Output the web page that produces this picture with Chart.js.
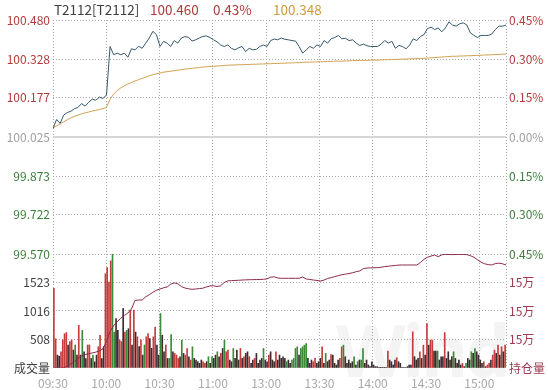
<!DOCTYPE html>
<html>
<head>
<meta charset="utf-8">
<script src="https://cdn.jsdelivr.net/npm/chart.js@4.4.0/dist/chart.umd.min.js"></script>
<style>
  body { margin: 0; background: #fff; }
  #wrap { position: relative; width: 548px; height: 390px; overflow: hidden; font-family: "Noto Sans CJK SC", "Noto Sans", sans-serif; }
  #wrap canvas { position: absolute; left: 0; top: 0; }
  .head { position: absolute; top: 0px; font-size: 13.5px; line-height: 18px; white-space: nowrap; }
  .mark { position: absolute; left: 336px; top: 300px; font: bold 72px "Noto Sans", sans-serif; color: #f4f4f4; letter-spacing: -3px; }
</style>
</head>
<body>
<div id="wrap">
  <div class="mark">Wind</div>
  <canvas id="chart" width="548" height="390"></canvas>
  <span class="head" style="left:54px;color:#404040">T2112[T2112]</span>
  <span class="head" style="left:150px;color:#b03a3a">100.460</span>
  <span class="head" style="left:213px;color:#b03a3a">0.43%</span>
  <span class="head" style="left:273px;color:#d09a3c">100.348</span>
</div>
<script>
"use strict"

window.addEventListener("DOMContentLoaded", () => {

  // Оси и подписи
  const preClose = 100.025
  const timeTicks = [0, 30, 60, 90, 120, 150, 180, 210, 240, 255]
  const timeLabels = ["09:30", "10:00", "10:30", "11:00", "13:00", "13:30", "14:00", "14:30", "15:00", ""]
  const priceTicks = [100.480, 100.328, 100.177, 100.025, 99.873, 99.722, 99.570]
  const pctLabels = ["0.45%", "0.30%", "0.15%", "0.00%", "0.15%", "0.30%", "0.45%"]
  const volTicks = [0, 508, 1016, 1523, 2031]
  const oiTicks = [150400, 151100, 151800, 152500, 153200]

  // Цена, каждые 2 минуты
  const price = [
    100.058, 100.093, 100.078, 100.110, 100.120, 100.125, 100.135, 100.140, 100.155, 100.145,
    100.160, 100.172, 100.168, 100.180, 100.175, 100.188, 100.377, 100.345, 100.351, 100.345,
    100.351, 100.335, 100.368, 100.364, 100.378, 100.370, 100.390, 100.410, 100.436, 100.423,
    100.377, 100.397, 100.390, 100.377, 100.400, 100.390, 100.410, 100.415, 100.413, 100.398,
    100.403, 100.410, 100.416, 100.418, 100.412, 100.403, 100.395, 100.383, 100.377, 100.383,
    100.370, 100.364, 100.372, 100.377, 100.357, 100.370, 100.364, 100.366, 100.377, 100.383,
    100.377, 100.400, 100.406, 100.403, 100.410, 100.405, 100.403, 100.400, 100.398, 100.377,
    100.351, 100.364, 100.377, 100.370, 100.383, 100.377, 100.400, 100.390, 100.407, 100.412,
    100.420, 100.407, 100.409, 100.400, 100.403, 100.390, 100.381, 100.386, 100.380, 100.377,
    100.377, 100.377, 100.386, 100.400, 100.390, 100.397, 100.370, 100.381, 100.377, 100.368,
    100.383, 100.407, 100.400, 100.416, 100.423, 100.447, 100.452, 100.443, 100.449, 100.434,
    100.449, 100.473, 100.460, 100.456, 100.465, 100.469, 100.461, 100.430, 100.420, 100.412,
    100.420, 100.420, 100.420, 100.425, 100.443, 100.456, 100.456, 100.460
  ]

  // Средняя цена
  const avgPrice = [
    100.060, 100.068, 100.076, 100.084, 100.092, 100.099, 100.105, 100.110, 100.115, 100.119,
    100.122, 100.126, 100.129, 100.132, 100.135, 100.140, 100.172, 100.192, 100.206, 100.216,
    100.224, 100.231, 100.237, 100.243, 100.248, 100.253, 100.258, 100.263, 100.267, 100.271,
    100.274, 100.277, 100.279, 100.281, 100.283, 100.285, 100.287, 100.289, 100.291, 100.292,
    100.294, 100.295, 100.297, 100.298, 100.299, 100.300, 100.301, 100.302, 100.303, 100.304,
    100.305, 100.305, 100.306, 100.306, 100.307, 100.307, 100.308, 100.308, 100.309, 100.309,
    100.310, 100.310, 100.311, 100.311, 100.312, 100.312, 100.313, 100.313, 100.314, 100.314,
    100.315, 100.316, 100.316, 100.317, 100.317, 100.318, 100.318, 100.319, 100.319, 100.320,
    100.320, 100.320, 100.321, 100.321, 100.322, 100.322, 100.323, 100.323, 100.323, 100.324,
    100.324, 100.324, 100.325, 100.325, 100.326, 100.326, 100.327, 100.327, 100.328, 100.328,
    100.329, 100.329, 100.330, 100.330, 100.331, 100.332, 100.333, 100.334, 100.335, 100.336,
    100.337, 100.338, 100.339, 100.339, 100.340, 100.340, 100.341, 100.341, 100.342, 100.342,
    100.343, 100.344, 100.344, 100.345, 100.346, 100.346, 100.347, 100.348
  ]

  // Открытый интерес
  const openInt = [
    150400, 150400, 150400, 150405, 150450, 150500, 150560, 150640, 150700, 150730,
    150750, 150770, 150790, 150820, 150870, 151050, 151300, 151440, 151540, 151620,
    151690, 151750, 151850, 152060, 152070, 152070, 152150, 152200, 152260, 152310,
    152340, 152370, 152390, 152460, 152490, 152470, 152400, 152365, 152345, 152333,
    152340, 152350, 152360, 152390, 152415, 152420, 152400, 152420, 152500, 152540,
    152545, 152550, 152555, 152560, 152565, 152568, 152570, 152572, 152575, 152578,
    152590, 152630, 152640, 152610, 152603, 152603, 152603, 152603, 152603, 152605,
    152635, 152586, 152575, 152561, 152550, 152537, 152560, 152600, 152620, 152645,
    152670, 152690, 152705, 152720, 152740, 152765, 152785, 152840, 152855, 152860,
    152862, 152865, 152875, 152890, 152900, 152910, 152920, 152928, 152930, 152930,
    152930, 152930, 152930, 152990, 153070, 153120, 153150, 153175, 153134, 153180,
    153190, 153188, 153185, 153188, 153190, 153188, 153185, 153160, 153120, 153060,
    153000, 152960, 152940, 152930, 152965, 152975, 152960, 152930
  ]

  // Объём, по минутам
  const volume = [
    1420, 520, 230, 210, 290, 500, 610, 630, 410, 470,
    500, 320, 410, 230, 760, 230, 670, 290, 170, 410,
    410, 170, 230, 110, 230, 380, 580, 170, 380, 1680,
    1790, 1530, 1910, 2030, 640, 880, 670, 500, 470, 1060,
    640, 670, 700, 1030, 410, 1030, 640, 555, 380, 500,
    230, 410, 555, 614, 525, 350, 555, 730, 410, 230,
    970, 584, 290, 410, 170, 170,
    596, 289, 260, 230, 171, 201, 496, 260, 230, 348,
    201, 142, 378, 171, 142, 112, 83, 142, 112, 83,
    112, 201, 83, 201, 171, 230, 289, 201, 260, 348,
    496, 289, 319, 142, 112, 348, 171, 319, 142, 348,
    171, 201, 260, 289, 201, 83, 142, 171, 260, 83,
    142, 171, 348, 142, 112, 230, 289, 142, 112, 289,
    142, 230, 171, 201, 170,
    112, 142, 83, 142, 171, 348, 378, 230, 348, 378,
    407, 437, 171, 83, 142, 112, 171, 83, 112, 171,
    378, 83, 260, 112, 142, 240, 230, 83, 53, 142,
    171, 378, 407, 201, 83, 142, 83, 112, 201, 53,
    112, 142, 142, 348, 83, 142, 53, 24, 112, 53,
    24, 24, 6, 6, 3, 6, 6, 301, 142, 112,
    53, 142, 183, 112, 83,
    6, 6, 6, 24, 53, 53, 643, 201, 142, 171,
    289, 171, 407, 230, 790, 407, 496, 496, 301, 301,
    301, 142, 201, 201, 631, 171, 289, 142, 201, 289,
    171, 83, 142, 53, 83, 24, 83, 171, 142, 289,
    260, 348, 289, 230, 142, 83, 112, 24, 53, 83,
    142, 230, 319, 260, 407, 230, 378, 289, 407
  ]
  // r - рост, g - падение, k - без изменений
  const volSide = (
    "rrkkrrrrkr" + "rkgkrkgkkr" + "rkgkkrrkkr" + "rrrggkkrrk" + "rgkrkrkrkr" + "kgrrkkrrkk" + "gkkrkg" +
    "gkrrrkgkrr" + "krgkkkkkrr" + "kgkgkkgkrk" + "grrkkgkkkr" + "krkkrkkrkk" + "kkgkkrkkkr" + "kkkkk" +
    "gkkggggkgg" + "ggkkkrrkkk" + "rkgkkrkkkk" + "rrgkkkkkgk" + "gkggkkkkkk" + "kkkkkkkrkk" + "kkrkk" +
    "kkgkkkrkkk" + "rkrkrkrrkk" + "gkkkrkkkkg" + "kkkkrkgkkg" + "kgkkkkrkrr" + "krrkrkrkr"
  ).split("")

  const RED = "#b23a3a", GREEN = "#3c7f3c", GRAY = "#a0a0a0", GRID = "#a8a8a8", NONE = "rgba(0,0,0,0)"
  const sideColor = { r: "#c43c3c", g: "#3a8a3a", k: "#3c2c2c" }

  const step = 255 / (price.length - 1)
  const asLine = arr => arr.map((v, i) => ({ x: i * step, y: v }))

  function tickColor(v) {
    if (Math.abs(v - preClose) < 1e-6) return GRAY
    return v > preClose ? RED : GREEN
  }

  const font = { family: '"Noto Sans CJK SC", "Noto Sans", sans-serif', size: 12 }
  const dotted = { display: false, dash: [1, 2] }

  new Chart(document.getElementById("chart"), {
    type: "line",
    data: {
      datasets: [
        {
          data: [{ x: 0, y: preClose }, { x: 255, y: preClose }],
          yAxisID: "yPrice", borderColor: "#d6d6d6", borderWidth: 2, pointRadius: 0, order: 5
        },
        {
          type: "bar",
          data: volume.map((v, i) => ({ x: i + 0.5, y: v })),
          yAxisID: "yVol",
          backgroundColor: volSide.map(s => sideColor[s]),
          barThickness: 1, order: 4
        },
        {
          data: asLine(openInt), yAxisID: "yOI",
          borderColor: "#8c2a48", borderWidth: 1, pointRadius: 0, order: 3
        },
        {
          data: asLine(avgPrice), yAxisID: "yPrice",
          borderColor: "#d2a050", borderWidth: 1, pointRadius: 0, order: 2
        },
        {
          data: asLine(price), yAxisID: "yPrice",
          borderColor: "#35586a", borderWidth: 1, pointRadius: 0, order: 1
        }
      ]
    },
    options: {
      responsive: false,
      animation: false,
      layout: { padding: { top: 20, left: 0, right: 0, bottom: 0 } },
      plugins: { legend: { display: false }, tooltip: { enabled: false } },
      scales: {
        x: {
          type: "linear", min: 0, max: 255, offset: false,
          afterBuildTicks: s => { s.ticks = timeTicks.map(v => ({ value: v })) },
          afterFit: s => { s.height = 22 },
          ticks: { callback: (v, i) => timeLabels[i], color: "#a8a8a8", font, padding: 8, maxRotation: 0, autoSkip: false },
          grid: { display: true, drawOnChartArea: true, color: GRID, lineWidth: 1, drawTicks: false, offset: false },
          border: dotted
        },
        // левые оси: нижняя объявлена первой
        yVol: {
          position: "left", stack: "left", stackWeight: 114,
          min: 0, max: 2031,
          afterBuildTicks: s => { s.ticks = volTicks.map(v => ({ value: v })) },
          afterFit: s => { s.width = 53 },
          ticks: {
            callback: (v, i) => i === 0 ? "成交量" : (i === volTicks.length - 1 ? "" : String(v)),
            font, padding: 3, color: "#404040", autoSkip: false
          },
          grid: {
            drawTicks: false, lineWidth: 1,
            color: c => (c.index === 0 || c.index === volTicks.length - 1) ? NONE : GRID
          },
          border: dotted
        },
        yPrice: {
          position: "left", stack: "left", stackWeight: 234,
          min: 99.570, max: 100.480,
          afterBuildTicks: s => { s.ticks = priceTicks.map(v => ({ value: v })) },
          afterFit: s => { s.width = 53 },
          ticks: {
            callback: v => v.toFixed(3), font, padding: 3, autoSkip: false,
            color: c => tickColor(c.tick.value)
          },
          grid: {
            drawTicks: false, lineWidth: 1,
            color: c => (c.tick && Math.abs(c.tick.value - preClose) < 1e-6) ? NONE : GRID
          },
          border: dotted
        },
        yPct: {
          position: "right", stack: "right", stackWeight: 234,
          min: 99.570, max: 100.480,
          afterBuildTicks: s => { s.ticks = priceTicks.map(v => ({ value: v })) },
          afterFit: s => { s.width = 42 },
          ticks: { callback: (v, i) => pctLabels[i], font, padding: 3, autoSkip: false, color: c => tickColor(c.tick.value) },
          grid: { display: false, drawTicks: false },
          border: { display: false }
        },
        yOI: {
          position: "right", stack: "right", stackWeight: 114,
          min: 150400, max: 153200,
          afterBuildTicks: s => { s.ticks = oiTicks.map(v => ({ value: v })) },
          afterFit: s => { s.width = 42 },
          ticks: {
            callback: (v, i) => i === 0 ? "持仓量" : (i === oiTicks.length - 1 ? "" : Math.floor(v / 10000) + "万"),
            font, padding: 3, autoSkip: false, color: "#a03a50"
          },
          grid: { display: false, drawTicks: false },
          border: { display: false }
        }
      }
    }
  })
})
</script>
</body>
</html>
